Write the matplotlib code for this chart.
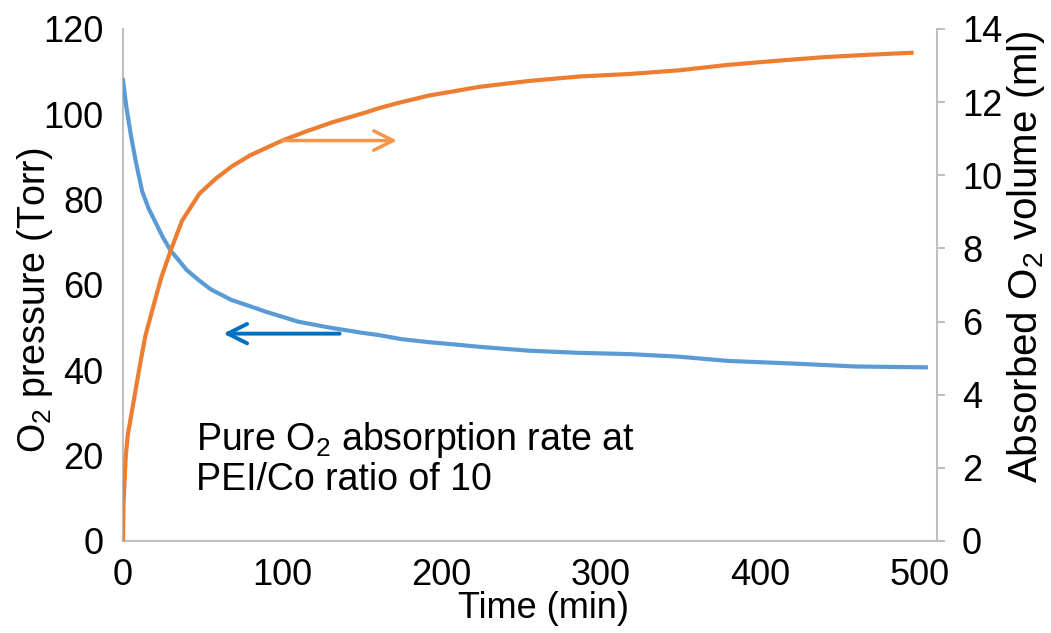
import matplotlib
matplotlib.use("Agg")
import matplotlib.pyplot as plt

plt.rcParams['font.family'] = ['Liberation Sans', 'DejaVu Sans']
plt.rcParams['mathtext.fontset'] = 'custom'
plt.rcParams['mathtext.rm'] = 'Liberation Sans'
plt.rcParams['mathtext.it'] = 'Liberation Sans'
plt.rcParams['mathtext.default'] = 'regular'

# O2 pressure (Torr) vs time (min)
p_time = [0, 2, 5, 8, 12, 16, 20, 25, 30, 35, 40, 48, 55, 68, 80, 90, 110, 130, 150,
          160, 175, 192, 210, 224, 255, 286, 318, 349, 380, 420, 460, 504]
p_torr = [108, 102, 95, 89, 82, 78, 75, 71.2, 68, 65.8, 63.5, 61, 59, 56.5, 55, 53.7,
          51.4, 50, 48.8, 48.3, 47.3, 46.6, 46, 45.5, 44.6, 44.1, 43.8, 43.2,
          42.2, 41.6, 40.9, 40.7]

# Absorbed O2 volume (ml) vs time (min)
v_time = [0, 0.3, 1.7, 3, 5.8, 7, 9, 11, 14, 18.3, 24, 30, 37, 48, 58, 68.5, 80, 100,
          115, 131.5, 152.5, 161, 173, 192, 224, 255, 286, 318, 349, 380, 410,
          440, 470, 495]
v_ml = [0, 1.0, 2.3, 2.9, 3.6, 3.9, 4.4, 4.9, 5.6, 6.3, 7.2, 7.95, 8.75, 9.5, 9.9,
        10.25, 10.55, 10.95, 11.2, 11.45, 11.72, 11.84, 11.98, 12.18, 12.42, 12.58,
        12.7, 12.77, 12.87, 13.02, 13.13, 13.23, 13.3, 13.35]

x_ticks = [0, 100, 200, 300, 400, 500]
left_ticks = [0, 20, 40, 60, 80, 100, 120]
right_ticks = [0, 2, 4, 6, 8, 10, 12, 14]

BLUE = '#5B9BD5'
ORANGE = '#ED7D31'
GREY = '#BFBFBF'
FS = 26

fig = plt.figure(figsize=(10.51, 6.33), dpi=100)
ax = fig.add_axes([123/1051, 92/633, (937-123)/1051, (541-29)/633])
ax2 = ax.twinx()

ax.plot(p_time, p_torr, color=BLUE, lw=3, solid_joinstyle='round', zorder=3)
ax2.plot(v_time, v_ml, color=ORANGE, lw=3, solid_joinstyle='round', zorder=3)

ax.set_xlim(0, 511)
ax.set_ylim(0, 120)
ax2.set_ylim(0, 14)
ax.set_xticks(x_ticks)
ax.set_yticks(left_ticks)
ax2.set_yticks(right_ticks)

for a in (ax, ax2):
    for s in a.spines.values():
        s.set_color(GREY)
        s.set_linewidth(1.5)
    a.spines['top'].set_visible(False)
ax.spines['right'].set_visible(False)
ax2.spines['left'].set_visible(False)
ax2.spines['bottom'].set_visible(False)

ax.tick_params(axis='x', length=0, pad=12, labelsize=FS)
ax.tick_params(axis='y', length=0, pad=14, labelsize=FS)
ax2.tick_params(axis='y', length=6, width=1.5, color=GREY, pad=12, labelsize=FS)

ax.set_xlabel('Time (min)', fontsize=FS, va='center')
ax.xaxis.set_label_coords((544 - 123) / 814, (541 - 608) / 512)
ax.set_ylabel('O$_2$ pressure (Torr)', fontsize=27, va='center')
ax.yaxis.set_label_coords((35 - 123) / 814, (541 - 300) / 512)
ax2.set_ylabel('Absorbed O$_2$ volume (ml)', fontsize=29, va='center')
ax2.yaxis.set_label_coords((1026 - 123) / 814, (541 - 257) / 512)

ax.text(0.09, 0.160, 'Pure O$_2$ absorption rate at\nPEI/Co ratio of 10',
        transform=ax.transAxes, fontsize=27, ha='left', va='center', linespacing=1.07)

ax2.annotate('', xy=(172, 10.95), xytext=(100, 10.95),
             arrowprops=dict(arrowstyle='->,head_length=1.4,head_width=0.7',
                             color='#F4954A', lw=2.5, shrinkA=0, shrinkB=0), zorder=4)
ax.annotate('', xy=(63, 48.6), xytext=(136, 48.6),
            arrowprops=dict(arrowstyle='->,head_length=1.4,head_width=0.7',
                            color='#0070C0', lw=2.8, shrinkA=0, shrinkB=0), zorder=4)

fig.savefig('out.png', dpi=100)
